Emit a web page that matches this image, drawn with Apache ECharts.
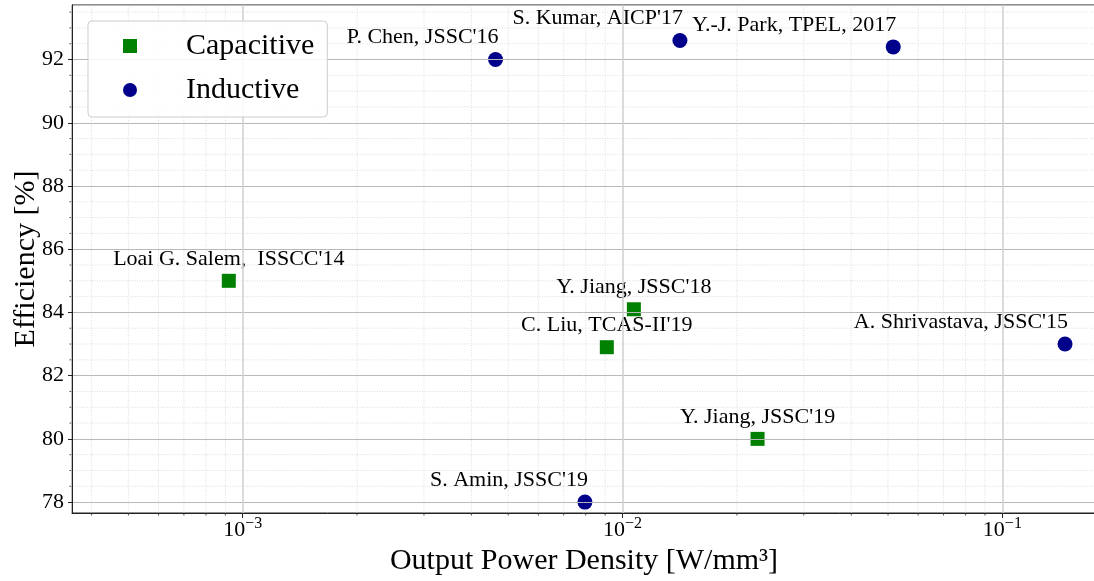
<!DOCTYPE html>
<html>
<head>
<meta charset="utf-8">
<script src="https://cdn.jsdelivr.net/npm/echarts@6/dist/echarts.min.js"></script>
<style>
  html, body { margin: 0; padding: 0; background: #fff; }
  #chart { width: 1094px; height: 581px; }
</style>
</head>
<body>
<div id="chart"></div>
<script>
// capacitive designs
var capNames = ["Loai G. Salem,  ISSCC'14", "Y. Jiang, JSSC'18", "C. Liu, TCAS-II'19", "Y. Jiang, JSSC'19"];
var capDensity = [0.000919, 0.01071, 0.00909, 0.02267];
var capEff = [85.0, 84.1, 82.9, 80.0];

// inductive designs
var indNames = ["P. Chen, JSSC'16", "S. Kumar, AICP'17", "Y.-J. Park, TPEL, 2017", "A. Shrivastava, JSSC'15", "S. Amin, JSSC'19"];
var indDensity = [0.00463, 0.01416, 0.0516, 0.1462, 0.00796];
var indEff = [92.0, 92.6, 92.4, 83.0, 78.0];

// minor grid positions
var xMinor = [4e-4, 5e-4, 6e-4, 7e-4, 8e-4, 9e-4,
  2e-3, 3e-3, 4e-3, 5e-3, 6e-3, 7e-3, 8e-3, 9e-3,
  2e-2, 3e-2, 4e-2, 5e-2, 6e-2, 7e-2, 8e-2, 9e-2];
var yMinor = [78.5, 79, 79.5, 80.5, 81, 81.5, 82.5, 83, 83.5, 84.5, 85, 85.5,
  86.5, 87, 87.5, 88.5, 89, 89.5, 90.5, 91, 91.5, 92.5, 93, 93.5];

// label alignment: 'c' centred above, 'r' right-aligned to marker
var capAlign = ['c', 'c', 'c', 'c'];
var indAlign = ['r', 'r', 'r', 'r', 'r'];

var FONT = "'Liberation Serif', 'DejaVu Serif', serif";
var chart = echarts.init(document.getElementById('chart'), null, { renderer: 'canvas' });

function pts(names, xs, ys, aligns, size) {
  var out = [];
  for (var i = 0; i < names.length; i++) {
    var right = aligns[i] === 'r';
    out.push({
      name: names[i],
      value: [xs[i], ys[i]],
      label: {
        position: [size / 2 + (right ? 3 : 0), size / 2 - 22],
        align: right ? 'right' : 'center',
        verticalAlign: 'middle'
      }
    });
  }
  return out;
}

var minorX = xMinor.map(function (v) { return [v, 85]; });
var minorY = yMinor.map(function (v) { return [0.001, v]; });

var option = {
  backgroundColor: '#fff',
  animation: false,
  grid: {
    left: 72, right: -2, top: 5, bottom: 68,
    containLabel: false,
    outerBoundsMode: 'none',
    show: true, borderColor: '#222', borderWidth: 1
  },
  legend: {
    left: 88, top: 21,
    z: 10,
    orient: 'vertical',
    padding: [8, 13, 10, 35],
    itemWidth: 14, itemHeight: 14, itemGap: 10,
    backgroundColor: 'rgba(255,255,255,0.85)',
    borderColor: '#cccccc', borderWidth: 1, borderRadius: 4,
    textStyle: { fontFamily: FONT, fontSize: 30, color: '#000', lineHeight: 34, padding: [0, 0, 0, 44] },
    data: [{ name: 'Capacitive', icon: 'rect' }, { name: 'Inductive', icon: 'circle' }]
  },
  xAxis: {
    type: 'log',
    logBase: 10,
    min: 3.552e-4,
    max: 0.1764,
    z: 3,
    name: 'Output Power Density [W/mm³]',
    nameLocation: 'middle',
    nameGap: 26,
    nameTextStyle: { fontFamily: FONT, fontSize: 30, color: '#000' },
    axisLine: { lineStyle: { color: '#222', width: 1 } },
    axisTick: { length: 5, lineStyle: { color: '#222' } },
    splitLine: { show: true, lineStyle: { color: '#cfcfcf', width: 1.5 } },
    axisLabel: {
      showMinLabel: false, showMaxLabel: false,
      margin: 3,
      formatter: function (v) {
        var e = Math.round(Math.log10(v));
        return '{b|10}{s|\u2212' + Math.abs(e) + '}';
      },
      rich: {
        b: { fontFamily: FONT, fontSize: 22, color: '#000', lineHeight: 25, verticalAlign: 'bottom' },
        s: { fontFamily: FONT, fontSize: 16, color: '#000', lineHeight: 14, verticalAlign: 'top' }
      }
    }
  },
  yAxis: {
    type: 'value',
    min: 77.655,
    max: 93.725,
    splitNumber: 8,
    z: 3,
    name: 'Efficiency [%]',
    nameLocation: 'middle',
    nameGap: 31,
    nameMoveOverlap: false,
    nameTextStyle: { fontFamily: FONT, fontSize: 30, color: '#000' },
    axisLine: { show: true, lineStyle: { color: '#222', width: 1 } },
    axisTick: { show: true, length: 4, lineStyle: { color: '#222' } },
    splitLine: { show: true, lineStyle: { color: '#b8b8b8', width: 1 } },
    axisLabel: {
      showMinLabel: false, showMaxLabel: false,
      margin: 8,
      fontFamily: FONT, fontSize: 22, color: '#000'
    }
  },
  series: [
    {
      name: 'minorX',
      type: 'custom',
      z: 1,
      silent: true,
      data: minorX,
      encode: { x: 0, y: 1 },
      renderItem: function (params, api) {
        var cs = params.coordSys;
        var p = api.coord([api.value(0), api.value(1)]);
        return {
          type: 'group',
          children: [
            { type: 'line', shape: { x1: p[0], y1: cs.y, x2: p[0], y2: cs.y + cs.height },
              style: { stroke: '#d4d4d4', lineWidth: 0.8, lineDash: [1, 1.5] } },
            { type: 'line', shape: { x1: p[0], y1: cs.y + cs.height, x2: p[0], y2: cs.y + cs.height + 2.5 },
              style: { stroke: '#222', lineWidth: 0.8 } }
          ]
        };
      }
    },
    {
      name: 'minorY',
      type: 'custom',
      z: 1,
      silent: true,
      data: minorY,
      encode: { x: 0, y: 1 },
      renderItem: function (params, api) {
        var cs = params.coordSys;
        var p = api.coord([api.value(0), api.value(1)]);
        return {
          type: 'group',
          children: [
            { type: 'line', shape: { x1: cs.x, y1: p[1], x2: cs.x + cs.width, y2: p[1] },
              style: { stroke: '#d4d4d4', lineWidth: 0.8, lineDash: [1, 1.5] } },
            { type: 'line', shape: { x1: cs.x - 2.5, y1: p[1], x2: cs.x, y2: p[1] },
              style: { stroke: '#222', lineWidth: 0.8 } }
          ]
        };
      }
    },
    {
      name: 'Capacitive',
      type: 'scatter',
      symbol: 'rect',
      symbolSize: 14,
      z: 2,
      itemStyle: { color: '#008000', opacity: 1 },
      label: { show: true, formatter: '{b}', fontFamily: FONT, fontSize: 22, color: '#000' },
      data: pts(capNames, capDensity, capEff, capAlign, 14)
    },
    {
      name: 'Inductive',
      type: 'scatter',
      symbol: 'circle',
      symbolSize: 15,
      z: 2,
      itemStyle: { color: '#00008b', opacity: 1 },
      label: { show: true, formatter: '{b}', fontFamily: FONT, fontSize: 22, color: '#000' },
      data: pts(indNames, indDensity, indEff, indAlign, 15)
    }
  ]
};

chart.setOption(option);
</script>
</body>
</html>
